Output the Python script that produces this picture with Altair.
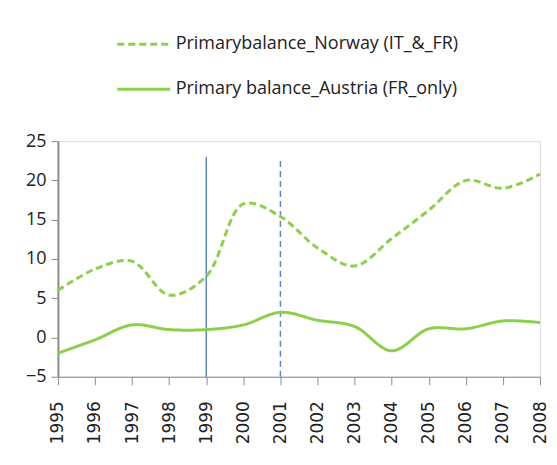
import altair as alt
import pandas as pd

years = list(range(1995, 2009))
norway = [6.0, 8.7, 9.7, 5.4, 7.8, 17.0, 15.4, 11.4, 9.1, 12.6, 16.2, 20.0, 19.0, 20.8]
austria = [-2.0, -0.3, 1.6, 1.0, 1.0, 1.6, 3.2, 2.2, 1.4, -1.7, 1.1, 1.1, 2.1, 1.9]
s_norway = "Primarybalance_Norway (IT_&_FR)"
s_austria = "Primary balance_Austria (FR_only)"
vline_years = [1999, 2001]
vline_dash = ["solid", "dashed"]
vline_top = [23.0, 22.7]
y_ticks = [-5, 0, 5, 10, 15, 20, 25]

df = pd.DataFrame({
    "year": years * 2,
    "value": norway + austria,
    "series": [s_norway] * len(years) + [s_austria] * len(years),
})
vdf = pd.DataFrame({"year": vline_years, "value": [-5, -5], "top": vline_top, "style": vline_dash})

FONT = "Open Sans"
GREEN = "#8DCF4A"
BLUE = "#5B86C5"
AX = "#8C8C8C"

x_axis = alt.Axis(values=years, format="d", labelAngle=-90, labelAlign="right",
                  labelBaseline="middle", labelFontSize=17, labelFont="DejaVu Sans", labelPadding=16,
                  tickSize=8, title=None, grid=False, domainColor=AX,
                  tickColor=AX, labelColor="#222222",
                  labelFlush=False, labelOverlap=False)
y_axis = alt.Axis(values=y_ticks, tickSize=7, title=None, grid=False,
                  labelFontSize=18, labelFont=FONT, labelPadding=5, labelOverlap=False,
                  domainColor=AX, tickColor=AX, labelColor="#222222", domainWidth=2)
xs = alt.Scale(domain=[1995, 2008], nice=False, zero=False)
ys = alt.Scale(domain=[-5, 25], nice=False)

vl = alt.Chart(vdf).mark_rule(color=BLUE, strokeWidth=1.5).encode(
    x=alt.X("year:Q", scale=xs, axis=x_axis),
    y=alt.Y("value:Q", scale=ys, axis=y_axis),
    y2="top:Q",
    strokeDash=alt.StrokeDash("style:N", scale=alt.Scale(domain=["solid", "dashed"], range=[[1, 0], [6, 4]]),
                              legend=None),
)

lines = alt.Chart(df).mark_line(interpolate="catmull-rom", strokeWidth=3, color=GREEN).encode(
    x=alt.X("year:Q", scale=xs, axis=x_axis),
    y=alt.Y("value:Q", scale=ys, axis=y_axis),
    strokeDash=alt.StrokeDash("series:N", scale=alt.Scale(domain=[s_norway, s_austria],
                                                          range=[[7, 4], [1, 0]]),
                              legend=alt.Legend(orient="none", legendX=58, legendY=-125, title=None,
                                                symbolType="stroke", symbolSize=2800, symbolStrokeWidth=3,
                                                symbolStrokeColor=GREEN,
                                                labelFontSize=18, labelFont=FONT, labelColor="#222222",
                                                rowPadding=8, labelOffset=4, labelLimit=400)),
)

chart = alt.layer(vl, lines).resolve_scale(strokeDash="independent").properties(
    width=483, height=236, padding={"left": 17, "top": 8, "right": 0, "bottom": 0}
).configure_view(stroke=None).configure(background="white")

chart.save("out.html", embed_options={"renderer": "svg", "actions": False})
